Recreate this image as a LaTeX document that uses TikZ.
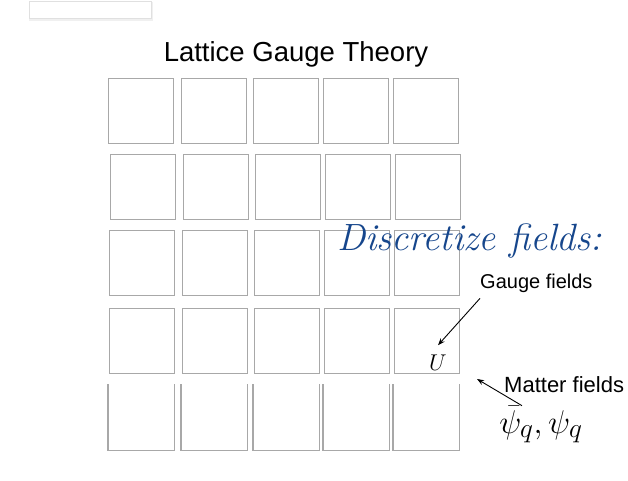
\documentclass[tikz,border=0pt]{standalone}
\usepackage{fontspec}
\setsansfont{Liberation Sans}
\usepackage{amsmath}
\usepackage{tikz}
\usetikzlibrary{arrows.meta,calc,positioning}
\definecolor{discblue}{RGB}{22,70,140}
\definecolor{cellgray}{RGB}{168,168,168}

\begin{document}
\begin{tikzpicture}[
  x=1pt, y=-1pt,
  >=Stealth,
  cell/.style={draw=cellgray, line width=1.4pt, minimum width=65pt,
    minimum height=65pt, inner sep=0pt, anchor=north west},
  opencell/.style={cell, draw=none},
  label/.style={font=\sffamily\fontsize{20}{22}\selectfont, inner sep=0pt, anchor=base west},
  arrow/.style={->, line width=0.9pt, draw=black}
]
  \useasboundingbox (0,0) rectangle (628,481);

  % screenshot tab at the top
  \fill[black!6] (29,2) rectangle (153,21);
  \node[fill=white, draw=black!12, minimum width=122pt, minimum height=17pt,
    inner sep=0pt, anchor=north west] (tab) at (29,1) {};

  \node[font=\sffamily\fontsize{27.5}{32}\selectfont, anchor=base] (title) at (296,62) {Lattice Gauge Theory};

  % lattice, row r = 1..4 closed, row 5 open at the top
  \foreach \r/\top/\dx in {1/78/0, 2/154/2, 3/230/1, 4/308/1} {
    \foreach \c/\left in {1/108, 2/181, 3/253, 4/323, 5/393} {
      \node[cell] (cell-\r-\c) at (\left+\dx,\top) {};
    }
  }
  \foreach \c/\left in {1/108, 2/181, 3/253, 4/323, 5/393} {
    \node[opencell] (cell-5-\c) at (\left,384) {};
    \draw[cellgray, line width=1.4pt] (cell-5-\c.north west) -- (cell-5-\c.south west)
      -- (cell-5-\c.south east) -- (cell-5-\c.north east);
  }

  \node[font=\fontsize{38}{42}\selectfont\itshape, text=discblue, anchor=base west, inner sep=0pt]
    (disc) at (337,250) {Discretize fields:};

  \node[label] (gauge) at (480,288) {Gauge fields};
  \node[font=\fontsize{20.74}{24}\selectfont, anchor=base west, inner sep=0pt, scale=1.1] (link) at (429,370) {$U$};
  \node[label, font=\sffamily\fontsize{22}{24}\selectfont] (matter) at (504,392) {Matter fields};
  \node[font=\fontsize{24.88}{28}\selectfont, anchor=base west, inner sep=0pt, scale=1.32] (quark) at (499,433)
    {$\bar{\psi}_q,\psi_q$};
  \coordinate (site) at (477,379);

  \draw[arrow] ($(gauge.south west)+(0,6)$) -- ($(link.north)+(0,-9)$);
  \draw[arrow] ($(quark.north west)+(23,0)$) -- (site);
\end{tikzpicture}
\end{document}
